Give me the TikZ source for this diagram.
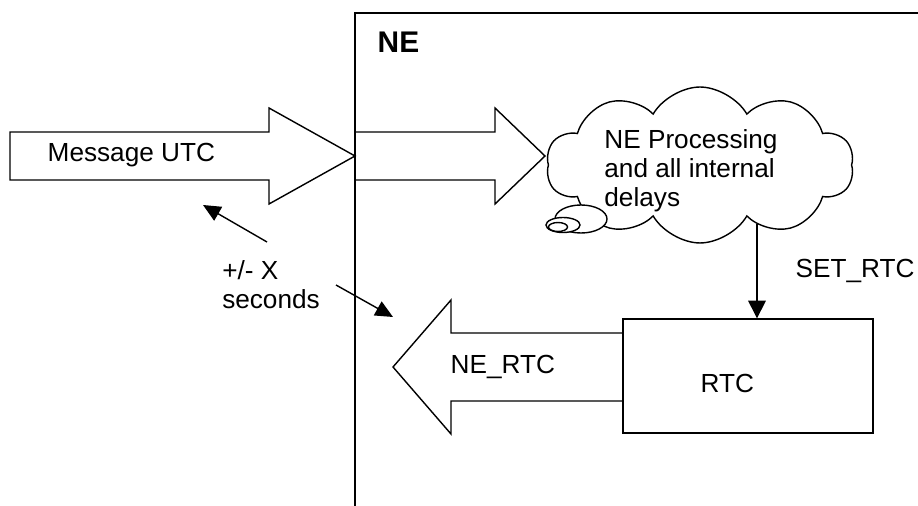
\documentclass[tikz,border=0pt]{standalone}
\usepackage{fontspec}
\setmainfont{Liberation Sans}
\usetikzlibrary{arrows.meta,shapes.symbols}
\begin{document}
\begin{tikzpicture}[x=0.02cm,y=-0.02cm,line width=.8pt,
  txt/.style={font=\fontsize{14.9}{16.4}\selectfont,inner sep=0},
  pointer/.style={-{Triangle[length=10pt,width=9pt]}},
  bubble/.style={draw,fill=white}]
\useasboundingbox (0,0) rectangle (918,506);
\draw (355,506) -- (355,13) -- (918,13);
\node[txt,anchor=base west,font=\fontsize{17}{20}\selectfont\bfseries] (ne) at (377,53) {NE};
\draw (10,132) -- (269,132) -- (269,108) -- (355,156) -- (269,204) -- (269,180) -- (10,180) -- cycle;
\node[txt,anchor=base west] (msg) at (47,162) {Message UTC};
\draw (355,132) -- (495,132) -- (495,108) -- (545,156) -- (495,204) -- (495,180) -- (355,180);
\node[cloud,draw,cloud puffs=10,cloud puff arc=120,cloud ignores aspect,minimum width=6.15cm,minimum height=3.12cm] (cloud) at (700,165) {};
\node[txt,align=left] (proc) at (691,171) {NE Processing\\and all internal\\delays};
\draw[bubble] (581,219) ellipse [x radius=26, y radius=14];
\draw[bubble] (563,225) ellipse [x radius=17, y radius=7.5];
\draw (558,227) ellipse [x radius=9.5, y radius=4.5];
\node[draw,minimum width=5cm,minimum height=2.28cm,inner sep=0] (rtc) at (748,376) {};
\node[txt,anchor=base west] (rtclbl) at (700,392) {RTC};
\coordinate (setsrc) at (757,224);
\draw[-{Triangle[length=10pt,width=10pt]}] (setsrc) -- (setsrc |- rtc.north);
\node[txt,anchor=base west] (setrtc) at (795,277) {SET\_RTC};
\draw (623,333) -- (451,333) -- (451,300) -- (393,367) -- (451,434) -- (451,401) -- (623,401);
\node[txt,anchor=base west] (nertc) at (450,373) {NE\_RTC};
\node[txt,align=left] (pm) at (271,285) {+/- X\\seconds};
\coordinate (pmA) at (267,242); \coordinate (pmB) at (203,205);
\coordinate (pmC) at (336,285); \coordinate (pmD) at (393,317);
\draw[pointer] (pmA) -- (pmB); \draw[pointer] (pmC) -- (pmD);
\end{tikzpicture}
\end{document}
